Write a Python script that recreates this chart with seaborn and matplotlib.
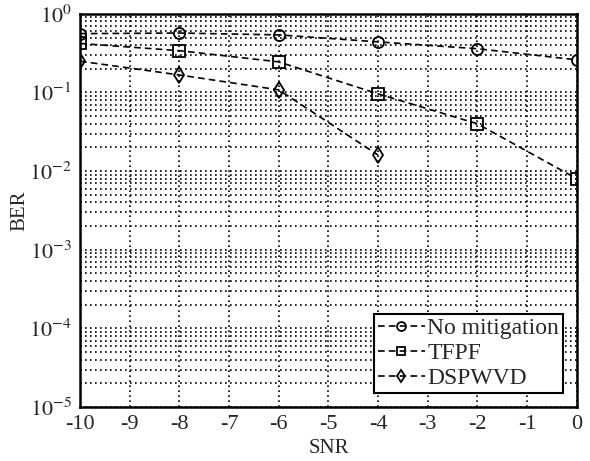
import numpy as np
import pandas as pd
import matplotlib
matplotlib.use("Agg")
import matplotlib.pyplot as plt
import seaborn as sns

snr = [-10, -8, -6, -4, -2, 0]
ber_none = [0.56, 0.57, 0.54, 0.44, 0.36, 0.26]
ber_tfpf = [0.42, 0.34, 0.245, 0.096, 0.04, 0.008]
snr_dsp = [-10, -8, -6, -4]
ber_dsp = [0.25, 0.167, 0.108, 0.016]

sns.set_style("white")
plt.rcParams['font.family'] = ['Liberation Serif', 'DejaVu Serif']
plt.rcParams['mathtext.fontset'] = 'stix'
plt.rcParams['axes.unicode_minus'] = False

fig = plt.figure(figsize=(5.9, 4.61), dpi=100)
ax = fig.add_axes([0.1356, 0.117, 0.842, 0.853])

series = [("No mitigation", snr, ber_none, "o"),
          ("TFPF", snr, ber_tfpf, "s"),
          ("DSPWVD", snr_dsp, ber_dsp, "d")]
for name, x, y, m in series:
    df = pd.DataFrame({"SNR": x, "BER": y})
    sns.lineplot(data=df, x="SNR", y="BER", ax=ax, color="k", marker=m,
                 markersize=8, markerfacecolor="none", markeredgecolor="k",
                 markeredgewidth=1.3, linewidth=1.2, dashes=(4, 2.5),
                 label=name)

ax.set_yscale("log")
ax.set_ylim(1e-5, 1)
ax.set_xlim(-10, 0)
ax.set_xticks(range(-10, 1))
ax.set_yticks([10.0**k for k in range(-5, 1)])
ax.set_yticklabels([r"$10^{%d}$" % k for k in range(-5, 1)])
ax.grid(True, which="major", color="k", linestyle=(0, (1, 2)), linewidth=1.2)
ax.grid(True, which="minor", axis="y", color="k", linestyle=(0, (1, 2)), linewidth=1.2)
ax.tick_params(axis="both", labelsize=16, direction="in", length=4, width=1, pad=6)
ax.tick_params(axis="y", which="minor", direction="in", length=2)
for s in ax.spines.values():
    s.set_linewidth(1.8)
    s.set_color("k")
ax.set_xlabel("SNR", fontsize=15, labelpad=3)
ax.set_ylabel("BER", fontsize=15, labelpad=0)

leg = ax.legend(loc="lower right", fontsize=17, fancybox=False, framealpha=1,
                edgecolor="k", borderpad=0.15, labelspacing=0.15,
                handlelength=2.0, handletextpad=0.1, borderaxespad=0.6,
                markerscale=0.8)
leg.get_frame().set_linewidth(1.5)

fig.savefig("out.png", dpi=100)
